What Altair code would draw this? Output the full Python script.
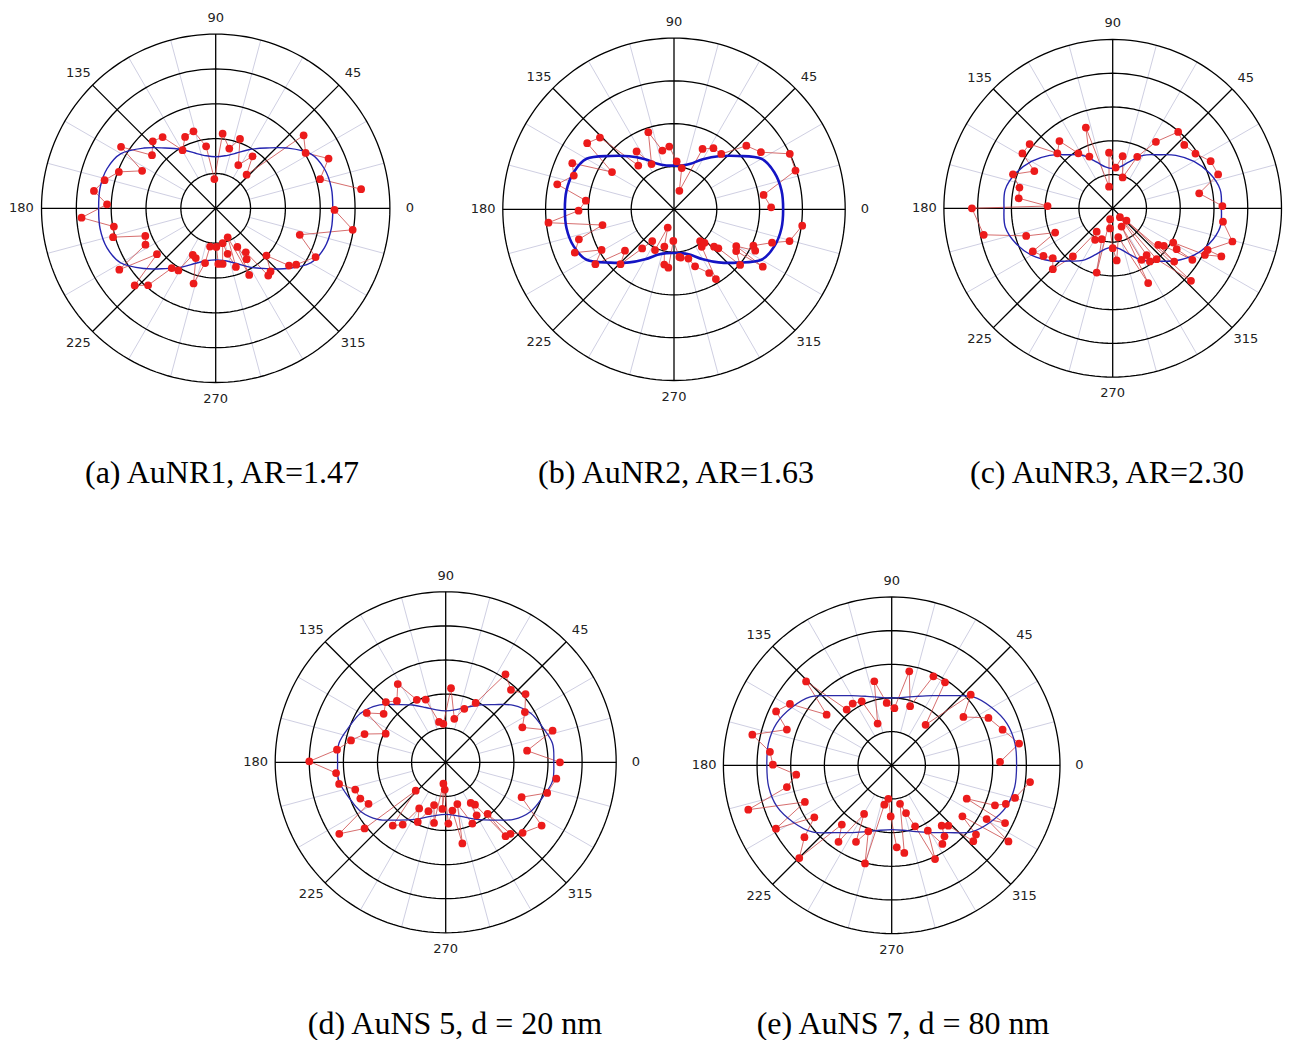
import altair as alt
import pandas as pd

# ---------------- measured intensities (angle in degrees, radius in ring units) ----------------
a_angle = [92.6, 84.7, 77.2, 70.7, 54.7, 62.4, 47.4, 39.7, 31.6, 23.8, 15.6, 7.5, 359.2, 351.1, 342.5, 334, 325, 322,
           317, 311, 308, 296.7, 301.3, 304.4, 299.3, 289, 284.7, 292.5, 281.3, 277.1, 272.7, 271, 261.6, 259, 248.2,
           243.8, 253.6, 239, 233.7, 218, 228.7, 223.6, 212.5, 207.4, 201.4, 195.7, 190.2, 184, 177.9, 171.9, 165.8,
           159.4, 153, 147, 140.2, 133.2, 126.7, 119.7, 113.2, 106.1, 98.8]
a_value = [0.84, 2.15, 1.76, 2.11, 1.83, 1.40, 1.31, 3.28, 3.03, 3.54, 3.11, 4.21, 3.41, 3.98, 2.53, 3.19, 2.82, 2.67,
           1.99, 2.40, 2.45, 2.14, 1.71, 1.53, 1.27, 1.78, 1.35, 0.90, 1.02, 1.61, 1.60, 1.11, 1.11, 1.60, 1.54,
           1.49, 2.25, 2.08, 2.13, 2.14, 2.94, 3.21, 3.28, 2.27, 2.17, 3.06, 2.97, 3.86, 3.12, 3.53, 3.29,
           2.97, 2.37, 3.24, 2.38, 2.64, 2.55, 1.92, 2.23, 2.30, 1.80]

b_angle = [1.2, 9.1, 17.7, 25.6, 33.3, 41.3, 49.5, 57.2, 64.7, 79.4, 73.8, 86.8, 94.3, 101.2, 108.4, 116.4, 122.9, 129.2,
           135.9, 142.7, 149, 155.6, 161.4, 167.9, 174.4, 180.8, 186.1, 192.4, 197.5, 203.6, 209.3, 214.9, 225.7, 220.2,
           230.9, 235.6, 245, 255.5, 251, 260, 264.5, 268.8, 276.4, 278, 286.3, 290.3, 309.4, 306.5, 312.3, 298.9, 301,
           317, 318.7, 329.4, 326.1, 319.9, 327.1, 335.4, 333, 341.2, 344.6, 352.7]
b_value = [2.27, 2.12, 2.98, 3.00, 2.43, 2.25, 1.70, 1.70, 1.56, 0.98, 0.45, 1.12, 1.47, 1.40, 1.90, 1.18, 1.61, 1.32,
           2.41, 2.55, 1.69, 2.61, 2.47, 2.79, 2.07, 2.23, 2.95, 1.71, 2.33, 2.53, 1.94, 2.24, 1.79, 1.50,
           1.18, 0.90, 1.05, 0.90, 0.45, 1.31, 1.37, 0.74, 1.12, 1.14, 1.20, 1.42, 0.96, 1.09, 1.06, 1.70, 1.90,
           1.28, 1.38, 1.69, 1.75, 2.02, 2.47, 2.04, 2.13, 2.42, 2.80, 3.02]

c_angle = [1.2, 9.8, 17.8, 25.7, 33.5, 41.5, 49.4, 57, 64.5, 79.2, 72.1, 85.8, 93.8, 99.6, 114.3, 108.4, 122, 128.4,
           135.2, 142.3, 148.7, 154.6, 161.2, 167.5, 173.9, 180, 178, 191.6, 197.7, 202.9, 208.4, 214.5, 219.8, 225.5,
           230.4, 235.6, 240.8, 250.5, 256, 256.4, 262.4, 270, 274.4, 281, 309, 296, 318, 295.4, 299.3, 306, 310.8,
           305, 321.2, 323.7, 319.1, 317.2, 330.5, 327.4, 327.1, 333.2, 336.3, 336.1, 344.5, 353.1]
c_value = [3.25, 2.60, 3.28, 3.22, 2.94, 2.83, 2.98, 2.35, 1.69, 1.57, 0.96, 1.21, 1.65, 0.65, 1.68, 2.52, 1.92, 2.54,
           2.31, 3.11, 3.13, 2.57, 3.12, 2.83, 2.80, 4.17, 1.93, 3.90, 2.69, 1.85, 2.69, 2.49, 2.31, 2.53,
           1.85, 0.84, 1.07, 0.97, 1.96, 0.33, 0.60, 1.18, 1.55, 0.87, 0.34, 0.60, 0.55, 2.45, 1.75, 1.71, 1.99,
           1.92, 1.73, 1.88, 2.41, 3.16, 2.06, 2.25, 2.81, 3.06, 3.07, 3.52, 3.68, 3.29]

d_angle = [0, 351.6, 343.2, 335.3, 326.6, 317.5, 312.2, 309, 309.1, 300.3, 304.7, 301.6, 293.5, 281.6, 285.6, 277.9,
           272.5, 263.8, 268, 265.9, 254.8, 259.1, 250.5, 240.1, 244.9, 223.4, 235.4, 230.1, 219.2, 213.9, 208.3, 203,
           196.8, 191.5, 185.6, 179.6, 173.4, 167, 160.8, 154.5, 148, 142, 134.8, 128.5, 121.5, 114.8, 107.7, 99.4,
           93.5, 85.9, 78.8, 70.8, 63.2, 55.8, 48, 40.5, 32.4, 24.5, 16.5, 8.1]
d_value = [3.35, 3.28, 3.11, 2.45, 3.37, 3.06, 2.83, 2.79, 1.95, 1.80, 1.51, 1.40, 1.96, 2.43, 1.27, 1.43,
           1.80, 0.63, 0.80, 1.37, 1.30, 1.81, 1.52, 1.56, 1.93, 1.21, 2.22, 2.42, 3.07, 3.76, 2.57, 2.72,
           2.77, 3.19, 3.23, 4.00, 3.21, 2.85, 2.52, 1.95, 2.73, 2.31, 2.49, 2.30, 2.69, 2.02, 1.93, 1.20,
           1.13, 2.18, 1.30, 1.66, 1.95, 3.12, 2.86, 3.08, 2.75, 2.47, 3.27, 2.41]

e_angle = [1.8, 353.1, 345.2, 341.3, 338.8, 336, 333, 330.5, 326.9, 324.2, 320.6, 317.1, 313.2, 309.6, 306.6, 302.8,
           298.9, 294.8, 291, 286.7, 282.2, 278.2, 273.5, 268.9, 264.3, 259.4, 254.8, 250.5, 240.4, 245, 229.9, 235.2,
           213.9, 219.5, 225.1, 208.7, 202.9, 197.2, 191.7, 185.6, 179.7, 173.7, 167.6, 161.2, 155, 148.9, 142.1,
           135.6, 128.9, 122.3, 115.1, 108.6, 101.7, 94.6, 87.3, 79.4, 72.7, 64.9, 57.3, 50.1, 41.8, 34, 26.1, 17.8, 9.7]
e_value = [3.22, 4.14, 3.79, 3.58, 3.29, 2.44, 3.78, 3.24, 4.14, 2.59, 3.24, 3.31, 2.46, 2.33, 2.63, 2.78,
           2.22, 3.07, 1.94, 1.48, 1.17, 2.63, 2.44, 1.52, 1.00, 1.19, 3.02, 2.08, 1.66, 2.51, 2.30, 2.77,
           2.77, 3.36, 3.89, 3.92, 2.80, 4.46, 3.18, 2.85, 3.53, 3.64, 4.24, 3.29, 3.79, 3.53, 2.45,
           3.56, 2.13, 2.17, 2.10, 1.31, 2.55, 1.86, 1.70, 2.84, 1.84, 2.92, 2.93, 1.57, 3.15, 2.57, 3.20, 3.46, 3.84]

# ---------------- fitted curves (blue), sampled every 10 degrees ----------------
fit_angle = [0, 10, 20, 30, 40, 50, 60, 70, 80, 90, 100, 110, 120, 130, 140, 150, 160, 170,
             180, 190, 200, 210, 220, 230, 240, 250, 260, 270, 280, 290, 300, 310, 320, 330, 340, 350]
a_fit = [3.36, 3.37, 3.32, 3.14, 2.69, 2.26, 1.95, 1.68, 1.53, 1.48, 1.53, 1.68, 1.95, 2.26, 2.69, 3.14, 3.32, 3.37,
         3.36, 3.37, 3.32, 3.14, 2.69, 2.26, 1.95, 1.68, 1.53, 1.48, 1.53, 1.68, 1.95, 2.26, 2.69, 3.14, 3.32, 3.37]
b_fit = [2.55, 2.55, 2.50, 2.36, 1.94, 1.62, 1.35, 1.13, 1.04, 1.02, 1.04, 1.13, 1.35, 1.62, 1.94, 2.36, 2.50, 2.55,
         2.55, 2.55, 2.50, 2.36, 1.94, 1.62, 1.35, 1.13, 1.04, 1.02, 1.04, 1.13, 1.35, 1.62, 1.94, 2.36, 2.50, 2.55]
c_fit = [3.22, 3.23, 3.05, 2.78, 2.44, 2.07, 1.81, 1.47, 1.245, 1.18, 1.245, 1.47, 1.81, 2.07, 2.44, 2.78, 3.05, 3.23,
         3.22, 3.23, 3.05, 2.78, 2.42, 2.04, 1.78, 1.45, 1.22, 1.15, 1.22, 1.45, 1.78, 2.04, 2.42, 2.78, 3.05, 3.23]
d_fit = [3.17, 3.18, 3.02, 2.88, 2.60, 2.21, 1.94, 1.71, 1.56, 1.51, 1.56, 1.71, 1.94, 2.21, 2.60, 2.88, 3.02, 3.18,
         3.17, 3.18, 3.02, 2.88, 2.60, 2.21, 1.94, 1.72, 1.58, 1.53, 1.58, 1.72, 1.94, 2.21, 2.60, 2.88, 3.02, 3.18]
e_fit = [3.71, 3.72, 3.64, 3.43, 3.16, 2.70, 2.39, 2.18, 2.05, 2.00, 2.05, 2.18, 2.39, 2.70, 3.16, 3.43, 3.64, 3.72,
         3.71, 3.71, 3.62, 3.38, 3.08, 2.61, 2.31, 2.10, 1.96, 1.91, 1.96, 2.10, 2.31, 2.61, 3.08, 3.38, 3.62, 3.71]

# ---------------- polar grid definition ----------------
major_angles = [0, 45, 90, 135]
minor_angles = [15, 30, 60, 75, 105, 120, 150, 165, 195, 210, 240, 255, 285, 300, 330, 345]
label_angles = [0, 45, 90, 135, 180, 225, 270, 315]
circle_steps = list(range(0, 362, 2))

COS = "cos(datum.ang * PI / 180)"
SIN = "sin(datum.ang * PI / 180)"


def panel(ang, val, fit, n_rings, ppu, W, H, cx, cy, caption, dx, offset, fit_width, fit_color, clip_labels=False):
    R = n_rings
    xs = alt.Scale(domain=[-cx / ppu, (W - cx) / ppu], nice=False, zero=False)
    ys = alt.Scale(domain=[-(H - cy) / ppu, cy / ppu], nice=False, zero=False)
    X = alt.X("x:Q", scale=xs, axis=None)
    Y = alt.Y("y:Q", scale=ys, axis=None)

    rings_df = pd.DataFrame([{"ring": k, "ang": t} for k in range(1, R + 1) for t in circle_steps])
    rings = alt.Chart(rings_df).transform_calculate(
        x=f"datum.ring * {COS}", y=f"datum.ring * {SIN}"
    ).mark_line(color="black", strokeWidth=1.3).encode(x=X, y=Y, detail="ring:N", order="ang:Q")

    minor = alt.Chart(pd.DataFrame({"ang": minor_angles})).transform_calculate(
        x=f"{COS}", y=f"{SIN}", x2=f"{R} * {COS}", y2=f"{R} * {SIN}"
    ).mark_rule(color="#cfcfe2", strokeWidth=1).encode(x=X, y=Y, x2="x2:Q", y2="y2:Q")

    major = alt.Chart(pd.DataFrame({"ang": major_angles})).transform_calculate(
        x=f"-{R} * {COS}", y=f"-{R} * {SIN}", x2=f"{R} * {COS}", y2=f"{R} * {SIN}"
    ).mark_rule(color="black", strokeWidth=1.3).encode(x=X, y=Y, x2="x2:Q", y2="y2:Q")

    labels = alt.Chart(pd.DataFrame({"ang": label_angles, "label": [str(a) for a in label_angles]})).transform_calculate(
        x=f"{R * 1.115} * {COS}", y=f"{R * 1.095} * {SIN}"
    ).mark_text(font="DejaVu Sans", fontSize=13, color="#222222", clip=clip_labels,
                align="center", baseline="middle").encode(x=X, y=Y, text="label:N")

    meas = pd.DataFrame({"ang": ang, "r": val})
    base = alt.Chart(meas).transform_calculate(x=f"datum.r * {COS}", y=f"datum.r * {SIN}")
    red_line = base.mark_line(color="#cc4a4a", strokeWidth=1, opacity=0.8).encode(x=X, y=Y, order="ang:Q")
    red_pts = base.mark_circle(size=60, color="#ec1b1b", opacity=1).encode(x=X, y=Y)

    fit_df = pd.DataFrame({"ang": fit_angle, "r": fit})
    blue = alt.Chart(fit_df).transform_calculate(
        x=f"datum.r * {COS}", y=f"datum.r * {SIN}"
    ).mark_line(color=fit_color, strokeWidth=fit_width, interpolate="cardinal-closed").encode(
        x=X, y=Y, order="ang:Q")

    return alt.layer(minor, rings, major, labels, red_line, blue, red_pts).properties(
        width=W, height=H,
        title=alt.TitleParams(caption, orient="bottom", anchor="middle", font="Liberation Serif",
                              fontSize=32, fontWeight="normal", color="black", offset=offset, dx=dx),
    )


pa = panel(a_angle, a_value, a_fit, 5, 34.84, 440, 420, 207.7, 200.3, "(a) AuNR1, AR=1.47", -6, 30, 1.4, "#2424b0")
pb = panel(b_angle, b_value, b_fit, 4, 42.8, 440, 420, 226.0, 201.3, "(b) AuNR2, AR=1.63", 8, 30, 2.6, "#1414c4")
pc = panel(c_angle, c_value, c_fit, 5, 33.76, 408, 420, 224.7, 200.3, "(c) AuNR3, AR=2.30", 15, 30, 1.4, "#2424b0",
           clip_labels=True)
pd_ = panel(d_angle, d_value, d_fit, 5, 34.1, 660, 460, 437.7, 236.3, "(d) AuNS 5, d = 20 nm", 117, 23, 1.3, "#2a2aa8")
pe = panel(e_angle, e_value, e_fit, 5, 33.66, 440, 460, 223.7, 239.3, "(e) AuNS 7, d = 80 nm", 15, 23, 1.3, "#2a2aa8")

row1 = alt.hconcat(pa, pb, pc, spacing=0)
row2 = alt.hconcat(pd_, pe, spacing=0)
chart = alt.vconcat(row1, row2, spacing=37).configure_view(strokeWidth=0).properties(padding=0)

chart.save("out.html", embed_options={"renderer": "svg", "actions": False})
